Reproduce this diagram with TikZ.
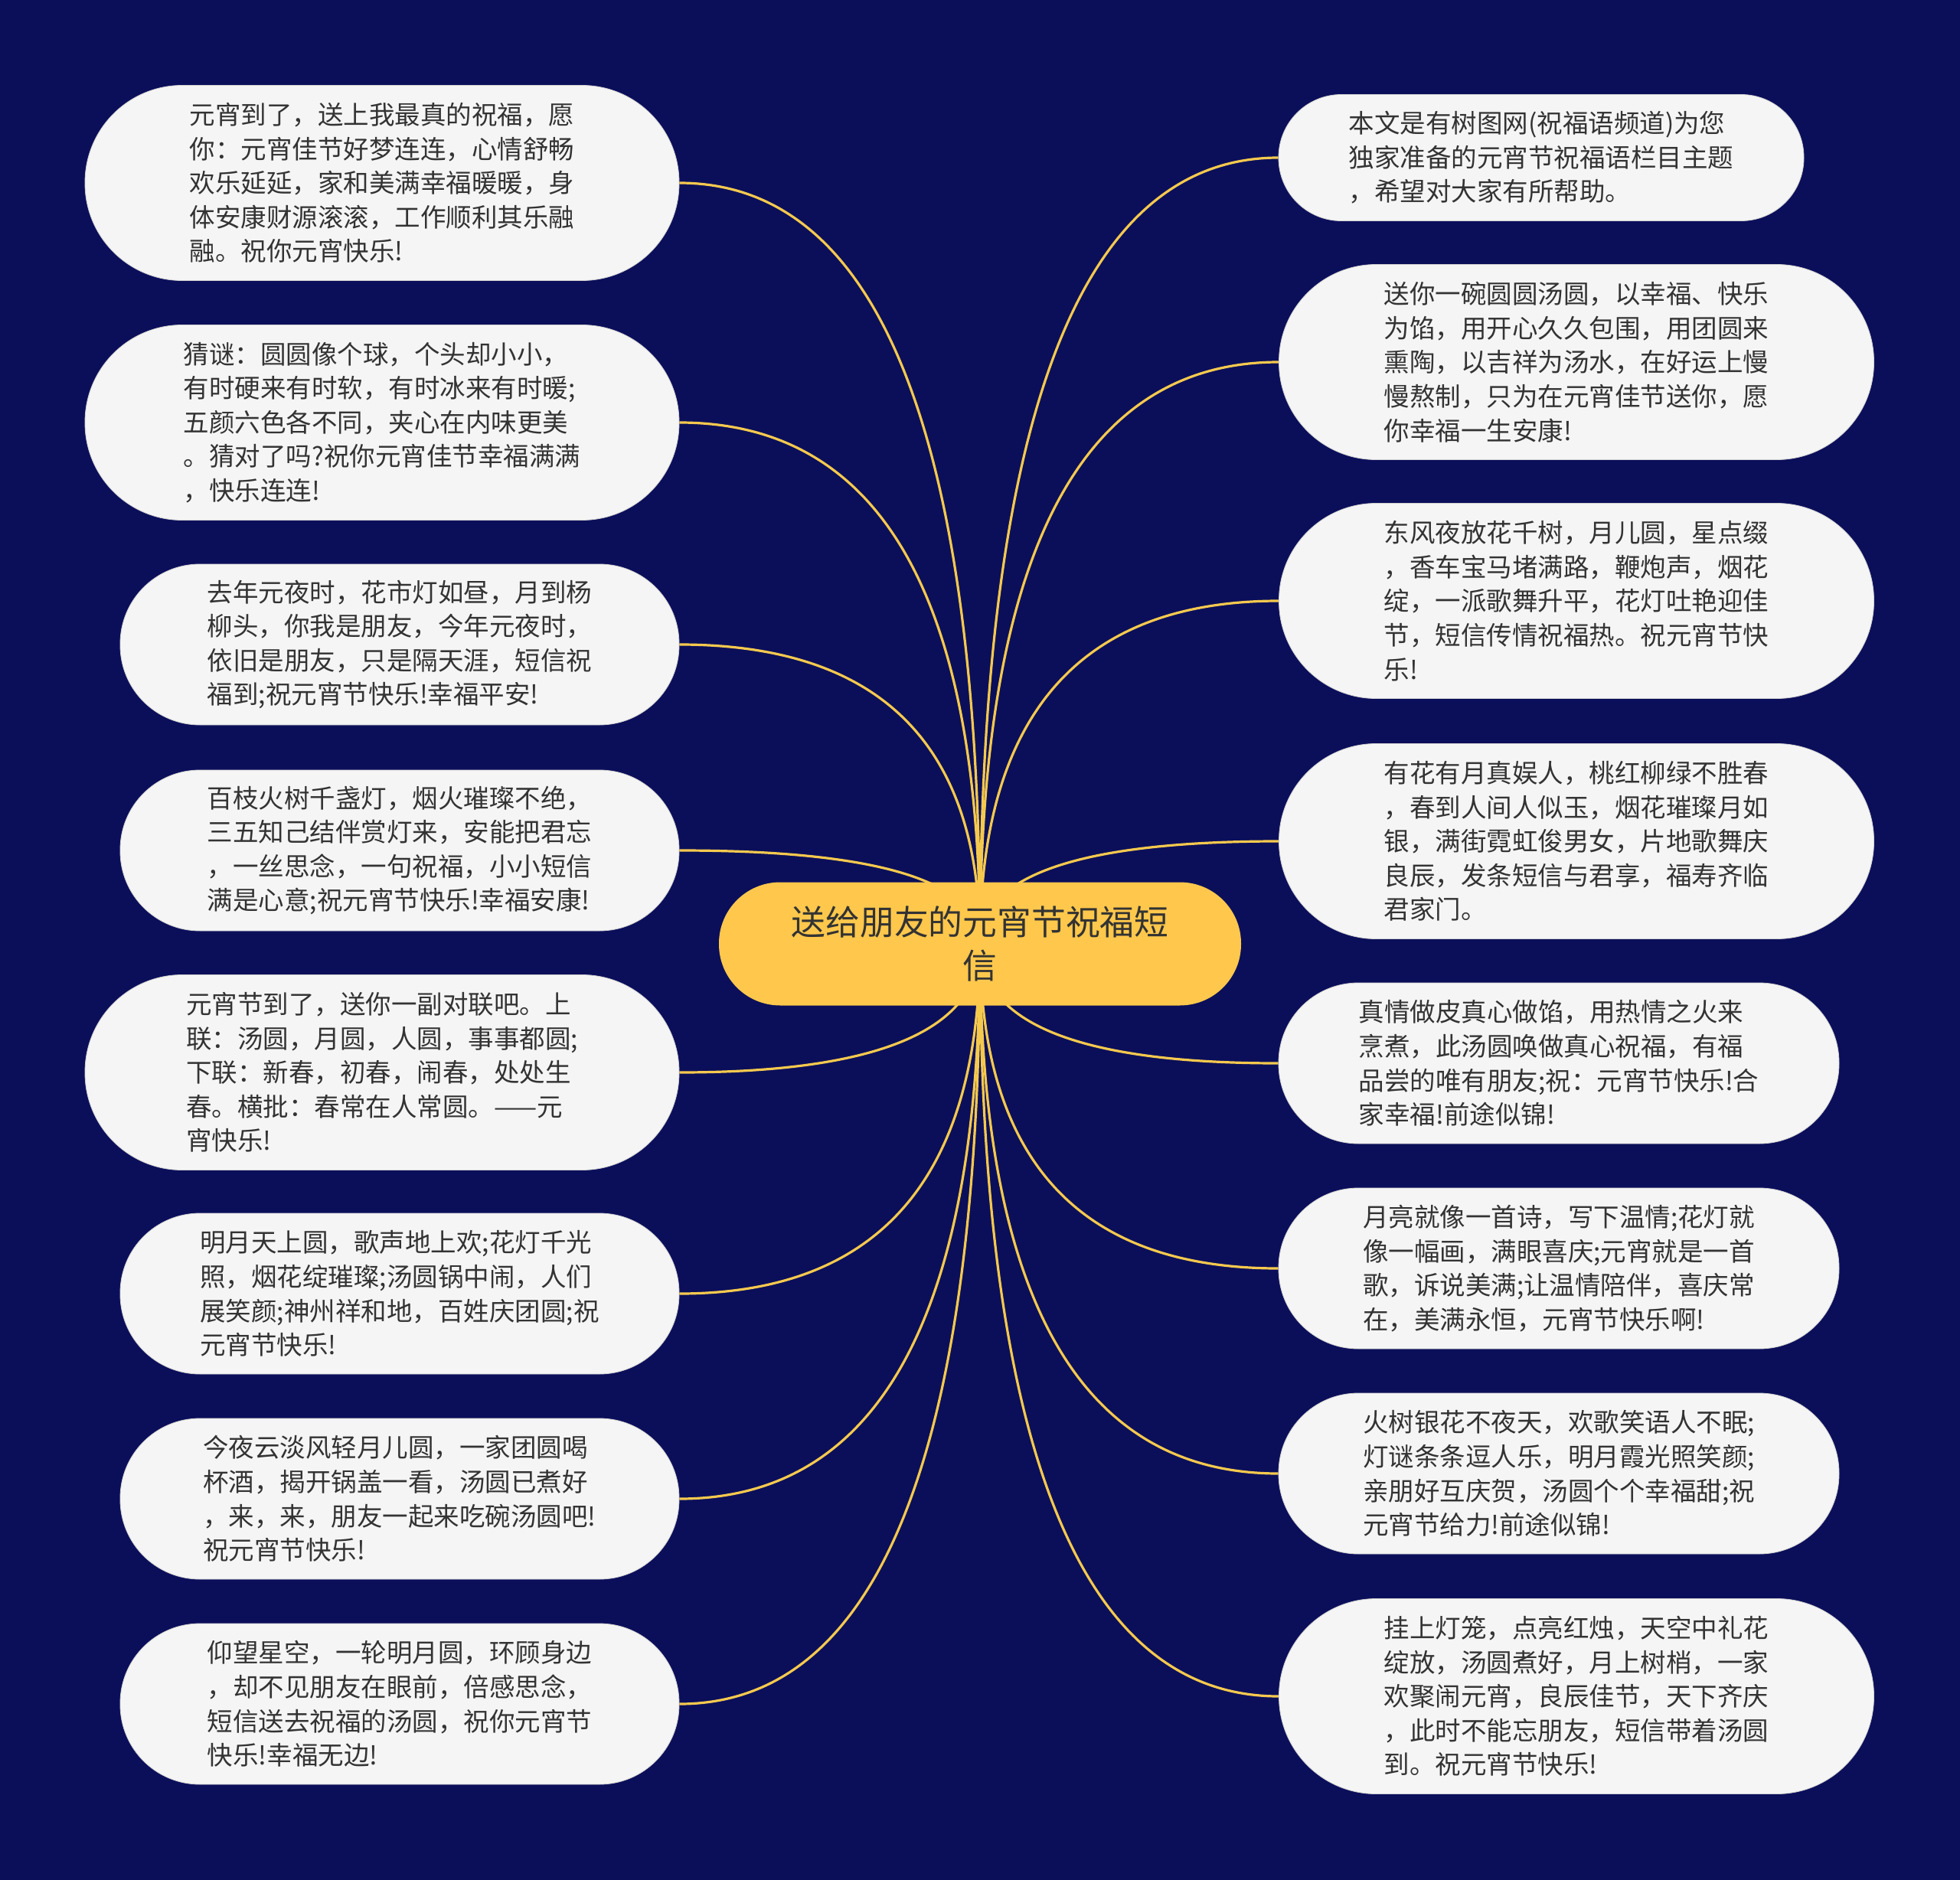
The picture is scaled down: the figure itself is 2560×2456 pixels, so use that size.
\documentclass[tikz,border=0pt]{standalone}
\usepackage{fontspec}
\setmainfont{Noto Sans CJK SC}
\usetikzlibrary{calc}
\pgfdeclarelayer{bg}
\pgfdeclarelayer{edges}
\pgfsetlayers{bg,edges,main}
\definecolor{navy}{HTML}{0B0F5A}
\definecolor{leaffill}{HTML}{F5F5F5}
\definecolor{gold}{HTML}{FFC84C}
\definecolor{edgegold}{HTML}{F5C94E}
\definecolor{txt}{HTML}{333333}
\newcommand\lefttie[1]{\draw[link] (#1.east) .. controls ($(#1.east)!0.6667!(C.center |- #1.east)$) and ($(C.center)!0.6667!(C.center |- #1.east)$) .. (C.center);}
\newcommand\righttie[1]{\draw[link] (#1.west) .. controls ($(#1.west)!0.6667!(C.center |- #1.west)$) and ($(C.center)!0.6667!(C.center |- #1.west)$) .. (C.center);}
\begin{document}
\begin{tikzpicture}[x=1pt,y=-1pt,
  leaf/.style={fill=leaffill, draw=leaffill!85!black, line width=0.8pt, text=txt, align=left, inner sep=0pt,
    font=\fontsize{33.5}{44.6}\selectfont},
  hfive/.style={minimum height=255pt, rounded corners=127pt},
  hfour/.style={minimum height=210pt, rounded corners=104pt},
  hthree/.style={minimum height=165pt, rounded corners=82pt},
  link/.style={draw=edgegold, line width=3.2pt},
  root/.style={fill=gold, text=txt, align=center, inner sep=0pt, minimum width=682pt, minimum height=161pt,
    rounded corners=80pt, font=\fontsize{44.8}{57}\selectfont}]
\useasboundingbox (0,0) rectangle (2560,2456);
\begin{pgfonlayer}{bg}
\fill[navy] (0,0) rectangle (2560,2456);
\end{pgfonlayer}

\node[root] (C) at (1280,1233) {送给朋友的元宵节祝福短\\信};

% left
\node[leaf,hfive,minimum width=776pt] (L1) at (499,239) {元宵到了，送上我最真的祝福，愿\\你：元宵佳节好梦连连，心情舒畅\\欢乐延延，家和美满幸福暖暖，身\\体安康财源滚滚，工作顺利其乐融\\融。祝你元宵快乐!};
\node[leaf,hfive,minimum width=776pt] (L2) at (499,552) {猜谜：圆圆像个球，个头却小小，\\有时硬来有时软，有时冰来有时暖;\\五颜六色各不同，夹心在内味更美\\。猜对了吗?祝你元宵佳节幸福满满\\，快乐连连!};
\node[leaf,hfour,minimum width=730pt] (L3) at (522,842) {去年元夜时，花市灯如昼，月到杨\\柳头，你我是朋友，今年元夜时，\\依旧是朋友，只是隔天涯，短信祝\\福到;祝元宵节快乐!幸福平安!};
\node[leaf,hfour,minimum width=730pt] (L4) at (522,1111) {百枝火树千盏灯，烟火璀璨不绝，\\三五知己结伴赏灯来，安能把君忘\\，一丝思念，一句祝福，小小短信\\满是心意;祝元宵节快乐!幸福安康!};
\node[leaf,hfive,minimum width=776pt] (L5) at (499,1401) {元宵节到了，送你一副对联吧。上\\联：汤圆，月圆，人圆，事事都圆;\\下联：新春，初春，闹春，处处生\\春。横批：春常在人常圆。——元\\宵快乐!};
\node[leaf,hfour,minimum width=730pt] (L6) at (522,1690) {明月天上圆，歌声地上欢;花灯千光\\照，烟花绽璀璨;汤圆锅中闹，人们\\展笑颜;神州祥和地，百姓庆团圆;祝\\元宵节快乐!};
\node[leaf,hfour,minimum width=730pt] (L7) at (522,1958) {今夜云淡风轻月儿圆，一家团圆喝\\杯酒，揭开锅盖一看，汤圆已煮好\\，来，来，朋友一起来吃碗汤圆吧!\\祝元宵节快乐!};
\node[leaf,hfour,minimum width=730pt] (L8) at (522,2226) {仰望星空，一轮明月圆，环顾身边\\，却不见朋友在眼前，倍感思念，\\短信送去祝福的汤圆，祝你元宵节\\快乐!幸福无边!};

% right
\node[leaf,hthree,minimum width=686pt] (R1) at (2013,206) {本文是有树图网(祝福语频道)为您\\独家准备的元宵节祝福语栏目主题\\，希望对大家有所帮助。};
\node[leaf,hfive,minimum width=777pt] (R2) at (2059,473) {送你一碗圆圆汤圆，以幸福、快乐\\为馅，用开心久久包围，用团圆来\\熏陶，以吉祥为汤水，在好运上慢\\慢熬制，只为在元宵佳节送你，愿\\你幸福一生安康!};
\node[leaf,hfive,minimum width=777pt] (R3) at (2059,785) {东风夜放花千树，月儿圆，星点缀\\，香车宝马堵满路，鞭炮声，烟花\\绽，一派歌舞升平，花灯吐艳迎佳\\节，短信传情祝福热。祝元宵节快\\乐!};
\node[leaf,hfive,minimum width=777pt] (R4) at (2059,1099) {有花有月真娱人，桃红柳绿不胜春\\，春到人间人似玉，烟花璀璨月如\\银，满街霓虹俊男女，片地歌舞庆\\良辰，发条短信与君享，福寿齐临\\君家门。};
\node[leaf,hfour,minimum width=732pt] (R5) at (2036,1389) {真情做皮真心做馅，用热情之火来\\烹煮，此汤圆唤做真心祝福，有福\\品尝的唯有朋友;祝：元宵节快乐!合\\家幸福!前途似锦!};
\node[leaf,hfour,minimum width=732pt] (R6) at (2036,1657) {月亮就像一首诗，写下温情;花灯就\\像一幅画，满眼喜庆;元宵就是一首\\歌，诉说美满;让温情陪伴，喜庆常\\在，美满永恒，元宵节快乐啊!};
\node[leaf,hfour,minimum width=732pt] (R7) at (2036,1925) {火树银花不夜天，欢歌笑语人不眠;\\灯谜条条逗人乐，明月霞光照笑颜;\\亲朋好互庆贺，汤圆个个幸福甜;祝\\元宵节给力!前途似锦!};
\node[leaf,hfive,minimum width=777pt] (R8) at (2059,2216) {挂上灯笼，点亮红烛，天空中礼花\\绽放，汤圆煮好，月上树梢，一家\\欢聚闹元宵，良辰佳节，天下齐庆\\，此时不能忘朋友，短信带着汤圆\\到。祝元宵节快乐!};

\begin{pgfonlayer}{edges}
\lefttie{L1}\lefttie{L2}\lefttie{L3}\lefttie{L4}\lefttie{L5}\lefttie{L6}\lefttie{L7}\lefttie{L8}
\righttie{R1}\righttie{R2}\righttie{R3}\righttie{R4}\righttie{R5}\righttie{R6}\righttie{R7}\righttie{R8}
\end{pgfonlayer}
\end{tikzpicture}
\end{document}
